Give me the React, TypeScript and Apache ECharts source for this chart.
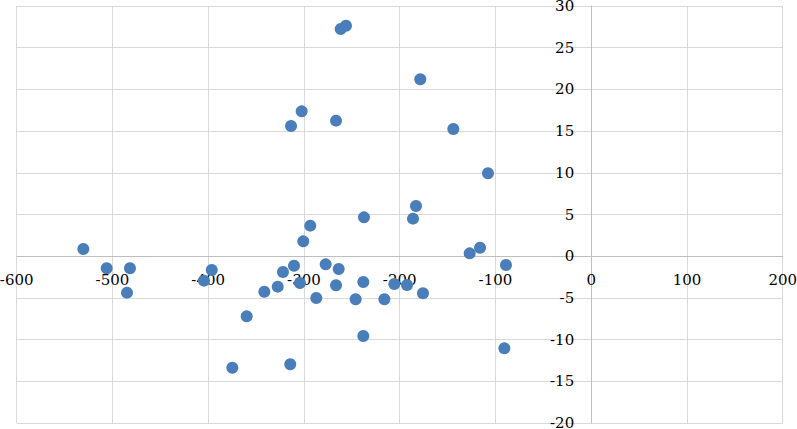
import React, { useEffect, useRef } from "react";
import * as echarts from "echarts";

const xValues: number[] = [
  -261.6, -256.1, -302.4, -313.5, -266.5, -178.5, -144, -107.8, -183, -186.1,
  -237.3, -530.4, -506, -481.7, -484.8, -396.3, -404.4, -359.8, -374.8, -341.4,
  -327.4, -321.9, -310.4, -304.2, -300.7, -293.4, -314.3, -287.1, -277.3, -266.5,
  -263.7, -246, -238, -238, -216, -205.6, -192.4, -175.7, -126.9, -116.1,
  -89, -90.7,
];
const yValues: number[] = [
  27.24, 27.64, 17.37, 15.61, 16.25, 21.21, 15.25, 9.94, 6.02, 4.5,
  4.66, 0.86, -1.45, -1.45, -4.37, -1.65, -2.93, -7.21, -13.37, -4.26,
  -3.65, -1.89, -1.14, -3.21, 1.78, 3.66, -12.96, -5.01, -0.98, -3.49,
  -1.53, -5.17, -3.09, -9.57, -5.17, -3.33, -3.45, -4.45, 0.34, 1.02,
  -1.06, -11.05,
];

const xMin = -600;
const xMax = 200;
const xStep = 100;
const yMin = -20;
const yMax = 30;
const yStep = 5;

const W = 797;
const H = 429;
const gridLeft = 16.7;
const gridRight = 14.3;
const gridTop = 6;
const gridBottom = 6;

export default function App() {
  const ref = useRef<HTMLDivElement>(null);
  useEffect(() => {
    if (!ref.current) return;
    const chart = echarts.init(ref.current, null, { renderer: "svg" });
    const plotW = W - gridLeft - gridRight;
    const plotH = H - gridTop - gridBottom;
    // distance from grid edges to the zero lines
    const yAxisShift = ((0 - xMin) / (xMax - xMin)) * plotW;
    const xAxisShift = ((0 - yMin) / (yMax - yMin)) * plotH;
    const labelFont = {
      fontFamily: "'DejaVu Serif', serif",
      fontSize: 15,
      color: "#000000",
    };
    chart.setOption({
      animation: false,
      grid: {
        left: gridLeft,
        right: gridRight,
        top: gridTop,
        bottom: gridBottom,
        containLabel: false,
        outerBoundsMode: "none",
      },
      xAxis: {
        type: "value",
        min: xMin,
        max: xMax,
        interval: xStep,
        position: "bottom",
        offset: -xAxisShift,
        axisLine: { show: true, onZero: false, lineStyle: { color: "#bfbfbf", width: 1 } },
        axisTick: { show: false },
        axisLabel: { ...labelFont, margin: 16, hideOverlap: false, showMinLabel: true, showMaxLabel: true },
        splitLine: { show: true, lineStyle: { color: "#d9d9d9", width: 1 } },
      },
      yAxis: {
        type: "value",
        min: yMin,
        max: yMax,
        interval: yStep,
        position: "left",
        offset: -yAxisShift,
        axisLine: { show: true, onZero: false, lineStyle: { color: "#bfbfbf", width: 1 } },
        axisTick: { show: false },
        axisLabel: { ...labelFont, margin: 17, hideOverlap: false, showMinLabel: true, showMaxLabel: true },
        splitLine: { show: true, lineStyle: { color: "#d9d9d9", width: 1 } },
      },
      series: [
        {
          type: "scatter",
          symbol: "circle",
          symbolSize: 12,
          itemStyle: { color: "#4a7ebb", opacity: 1 },
          data: xValues.map((x, i) => [x, yValues[i]]),
        },
      ],
    });
    return () => chart.dispose();
  }, []);
  return <div ref={ref} style={{ width: W, height: H, position: "absolute", left: 0, top: 0 }} />;
}
